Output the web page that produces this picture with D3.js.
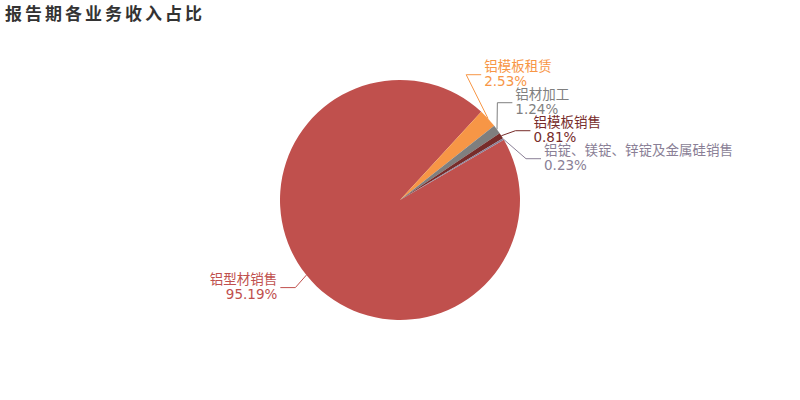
<!DOCTYPE html>
<html><head><meta charset="utf-8">
<script src="https://cdn.jsdelivr.net/npm/d3@7/dist/d3.min.js"></script>
<style>body{margin:0;background:#fff}</style>
</head><body><svg id="c" width="800" height="400"></svg>
<script>
const title = "报告期各业务收入占比";
const categories = ["铝型材销售","铝模板租赁","铝材加工","铝模板销售","铝锭、镁锭、锌锭及金属硅销售"];
const values = [95.19, 2.53, 1.24, 0.81, 0.23];
const colors = ["#c0504d","#f79646","#7f7f7f","#772c2a","#8a7f96"];

const svg = d3.select("#c");
const cx = 400, cy = 200, r = 120;
const font = "'DejaVu Sans','Noto Sans CJK SC',sans-serif";

svg.append("text").attr("x",5).attr("y",20).text(title)
  .attr("font-family","'Noto Sans CJK SC',sans-serif").attr("font-weight","bold")
  .attr("font-size",17).attr("letter-spacing",3).attr("fill","#333");

const data = categories.map((c,i)=>({name:c,value:values[i],color:colors[i]}));
const startDeg = 59.92;
const pie = d3.pie().value(d=>d.value).sort(null)
  .startAngle(startDeg*Math.PI/180).endAngle(startDeg*Math.PI/180+2*Math.PI);
const arcs = pie(data);
const arc = d3.arc().innerRadius(0).outerRadius(r);
const g = svg.append("g").attr("transform",`translate(${cx},${cy})`);
g.selectAll("path").data(arcs).join("path").attr("d",arc).attr("fill",d=>d.data.color);

// label layout
const Rn = 140, spacing = 28, seg = 15;
arcs.forEach(a=>{
  a.mid = (a.startAngle+a.endAngle)/2;
  const m = ((a.mid % (2*Math.PI)) + 2*Math.PI) % (2*Math.PI);
  a.right = Math.sin(m) >= 0;
  a.ny = cy - Rn*Math.cos(a.mid);
});
function spread(list){
  if(!list.length) return;
  list.sort((p,q)=>p.ny-q.ny);
  let overlap=false;
  for(let i=1;i<list.length;i++) if(list[i].ny-list[i-1].ny<spacing) overlap=true;
  if(!overlap){list.forEach(a=>a.ly=a.ny);return;}
  const mean = d3.mean(list,a=>a.ny) - 2.4;
  list.forEach((a,i)=>a.ly = mean + (i-(list.length-1)/2)*spacing);
}
spread(arcs.filter(a=>a.right));
spread(arcs.filter(a=>!a.right));

arcs.forEach(a=>{
  const x1 = cx + r*Math.sin(a.mid), y1 = cy - r*Math.cos(a.mid);
  const dy = a.ly - cy;
  const R2 = 131.5 + 0.00065*dy*dy;
  const dx = Math.sqrt(Math.max(R2*R2 - dy*dy, 0));
  const x2 = a.right ? cx + dx : cx - dx, y2 = a.ly;
  const x3 = a.right ? x2 + seg : x2 - seg;
  svg.append("polyline").attr("points",`${x1},${y1} ${x2},${y2} ${x3},${y2}`)
    .attr("fill","none").attr("stroke",a.data.color).attr("stroke-width",1);
  const tx = a.right ? x3 + 3 : x3 - 3;
  const t = svg.append("text").attr("font-family",font).attr("font-size",13.5)
    .attr("fill",a.data.color).attr("text-anchor",a.right?"start":"end");
  t.append("tspan").attr("x",tx).attr("y",y2-3.5).text(a.data.name);
  t.append("tspan").attr("x",tx).attr("y",y2+11).text(a.data.value.toFixed(2)+"%");
});
</script></body></html>
